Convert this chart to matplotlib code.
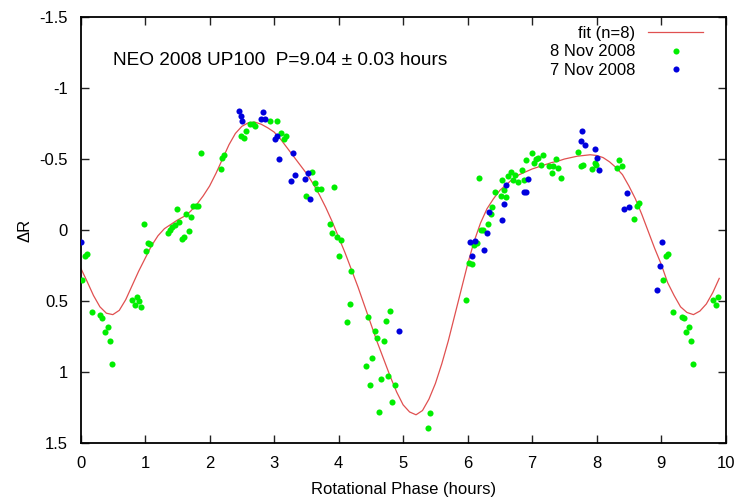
import matplotlib
matplotlib.use('Agg')
import matplotlib.pyplot as plt

plt.rcParams['font.family'] = ['Liberation Sans', 'DejaVu Sans']

# Data: 8 Nov 2008 (green)
nov8_x = [0.07, 0.10, 0.02, 0.17, 0.30, 0.34, 0.42, 0.38, 0.45, 0.48,
          0.79, 0.87, 0.91, 0.84, 0.94,
          0.98, 1.04, 1.08, 1.02,
          1.36, 1.39, 1.42, 1.46, 1.52, 1.50, 1.57, 1.60, 1.68, 1.64, 1.71,
          1.75, 1.79, 1.82, 1.86, 2.18, 2.20, 2.23,
          2.49, 2.53, 2.56, 2.63, 2.67, 2.71, 2.93, 3.04,
          3.11, 3.15, 3.18, 3.58, 3.64, 3.67, 3.72, 3.50, 3.93,
          3.87, 3.90, 3.98, 4.04, 4.01, 4.19,
          4.17, 4.13, 4.45, 4.80, 4.73, 4.56, 4.59, 4.70,
          4.51, 4.42, 4.77, 4.65, 4.88, 4.48, 4.83, 4.63, 5.42, 5.38,
          5.98, 6.02, 6.06,
          6.10, 6.15, 6.21, 6.24, 6.32, 6.36, 6.38, 6.18,
          6.42, 6.51, 6.56, 6.60,
          6.53, 6.63, 6.67, 6.70, 6.73, 6.78, 6.85, 6.88,
          6.91, 6.99, 7.03, 7.06, 7.09, 7.13, 7.17,
          7.26, 7.33, 7.40, 7.37, 7.30, 7.44,
          7.71, 7.75, 7.79, 7.93, 7.97, 7.99,
          8.35, 8.32, 8.39, 8.62, 8.65, 8.58,
          9.07, 9.10, 9.03, 9.18, 9.32, 9.35, 9.43, 9.39, 9.46, 9.49,
          9.81, 9.88, 9.85]
nov8_y = [0.18, 0.17, 0.35, 0.58, 0.60, 0.62, 0.68, 0.72, 0.78, 0.94,
          0.49, 0.47, 0.50, 0.53, 0.54,
          -0.04, 0.09, 0.10, 0.15,
          0.02, 0.00, -0.02, -0.035, -0.06, -0.15, 0.06, 0.05, 0.01, -0.11, -0.09,
          -0.17, -0.17, -0.17, -0.54, -0.43, -0.51, -0.53,
          -0.66, -0.65, -0.70, -0.75, -0.75, -0.73, -0.77, -0.77,
          -0.68, -0.64, -0.66, -0.41, -0.33, -0.29, -0.29, -0.24, -0.30,
          -0.04, 0.02, 0.05, 0.07, 0.18, 0.29,
          0.52, 0.65, 0.61, 0.57, 0.64, 0.71, 0.76, 0.78,
          0.90, 0.96, 1.03, 1.05, 1.09, 1.09, 1.21, 1.28, 1.29, 1.39,
          0.49, 0.23, 0.24,
          0.105, 0.09, 0.00, 0.00, -0.04, -0.11, -0.16, -0.37,
          -0.27, -0.24, -0.28, -0.23,
          -0.35, -0.38, -0.41, -0.35, -0.39, -0.34, -0.42, -0.35,
          -0.49, -0.54, -0.47, -0.50, -0.51, -0.46, -0.53,
          -0.45, -0.45, -0.44, -0.50, -0.40, -0.37,
          -0.55, -0.45, -0.46, -0.43, -0.47, -0.46,
          -0.49, -0.44, -0.45, -0.17, -0.19, -0.08,
          0.18, 0.17, 0.35, 0.58, 0.61, 0.62, 0.68, 0.72, 0.78, 0.94,
          0.49, 0.47, 0.53]

# Data: 7 Nov 2008 (blue)
nov7_x = [0.00, 2.45, 2.48, 2.51, 2.79, 2.83, 2.86, 3.01, 3.04, 3.07, 3.29,
          3.33, 3.26, 3.48, 3.52, 3.55, 4.93,
          6.07, 6.04, 6.11, 6.26, 6.30, 6.33, 6.53, 6.57, 6.60, 6.94, 6.87, 6.91,
          7.75, 7.78, 7.82, 7.97, 8.00, 8.03,
          8.47, 8.43, 8.50, 9.01, 8.98, 8.94]
nov7_y = [0.087, -0.84, -0.80, -0.77, -0.78, -0.83, -0.78, -0.64, -0.66, -0.50, -0.54,
          -0.385, -0.345, -0.36, -0.40, -0.22, 0.71,
          0.18, 0.085, 0.075, 0.14, 0.02, -0.13, -0.07, -0.185, -0.315, -0.36, -0.265, -0.265,
          -0.63, -0.70, -0.60, -0.57, -0.51, -0.42,
          -0.26, -0.15, -0.16, 0.085, 0.25, 0.42]

# Fit curve (n=8), every 0.1 h
fit_x = [i / 10 for i in range(100)]
fit_y = [0.265, 0.36, 0.46, 0.54, 0.585, 0.595, 0.565, 0.49, 0.39, 0.29,
         0.20, 0.11, 0.04, -0.01, -0.04, -0.07, -0.095, -0.13, -0.18, -0.24,
         -0.31, -0.40, -0.50, -0.60, -0.68, -0.73, -0.755, -0.76, -0.745, -0.72,
         -0.69, -0.64, -0.58, -0.52, -0.46, -0.40, -0.33, -0.25, -0.16, -0.06,
         0.05, 0.16, 0.28, 0.40, 0.53, 0.66, 0.79, 0.91, 1.03, 1.14,
         1.23, 1.28, 1.30, 1.27, 1.19, 1.08, 0.94, 0.78, 0.60, 0.42,
         0.24, 0.08, -0.05, -0.15, -0.22, -0.28, -0.32, -0.36, -0.39, -0.41,
         -0.43, -0.445, -0.46, -0.475, -0.485, -0.50, -0.51, -0.52, -0.525, -0.53,
         -0.525, -0.51, -0.48, -0.44, -0.39, -0.31, -0.22, -0.11, 0.01, 0.13,
         0.24, 0.37, 0.46, 0.54, 0.58, 0.595, 0.57, 0.52, 0.44, 0.34]

ytick_vals = [-1.5, -1, -0.5, 0, 0.5, 1, 1.5]
ytick_labels = ['-1.5', '-1', '-0.5', '0', '0.5', '1', '1.5']
xtick_vals = list(range(0, 11))

fig = plt.figure(figsize=(7.39, 4.98), dpi=100)
ax = fig.add_axes([0.109, 0.110, 0.873, 0.856])

ax.plot(fit_x, fit_y, color='#e05050', lw=0.9, label='fit (n=8)', zorder=2)
ax.plot(nov8_x, nov8_y, 'o', color='#00ee00', ms=4.4, mew=0, label='8 Nov 2008', zorder=3)
ax.plot(nov7_x, nov7_y, 'o', color='#0000dd', ms=4.4, mew=0, label='7 Nov 2008', zorder=4)

ax.set_xlim(0, 10)
ax.set_ylim(1.5, -1.5)
ax.set_xticks(xtick_vals)
ax.set_xticklabels([str(v) for v in xtick_vals])
ax.set_yticks(ytick_vals)
ax.set_yticklabels(ytick_labels)
ax.tick_params(direction='in', length=6, width=1, labelsize=12,
               top=True, right=True, color='#222222')
ax.tick_params(axis='x', pad=9)
ax.tick_params(axis='y', pad=9)
for s in ax.spines.values():
    s.set_linewidth(1.3)

ax.set_xlabel('Rotational Phase (hours)', fontsize=12, labelpad=8)
ax.set_ylabel('ΔR', fontsize=12, labelpad=5)

ax.text(0.05, 0.897, 'NEO 2008 UP100  P=9.04 ± 0.03 hours', transform=ax.transAxes,
        fontsize=13.7, ha='left', va='center')

ax.legend(loc='upper right', bbox_to_anchor=(0.983, 1.006), frameon=False,
          markerfirst=False, fontsize=12, handlelength=3.3, handletextpad=0.75,
          labelspacing=0.2, borderpad=0.2)

fig.savefig('out.png', dpi=100)
